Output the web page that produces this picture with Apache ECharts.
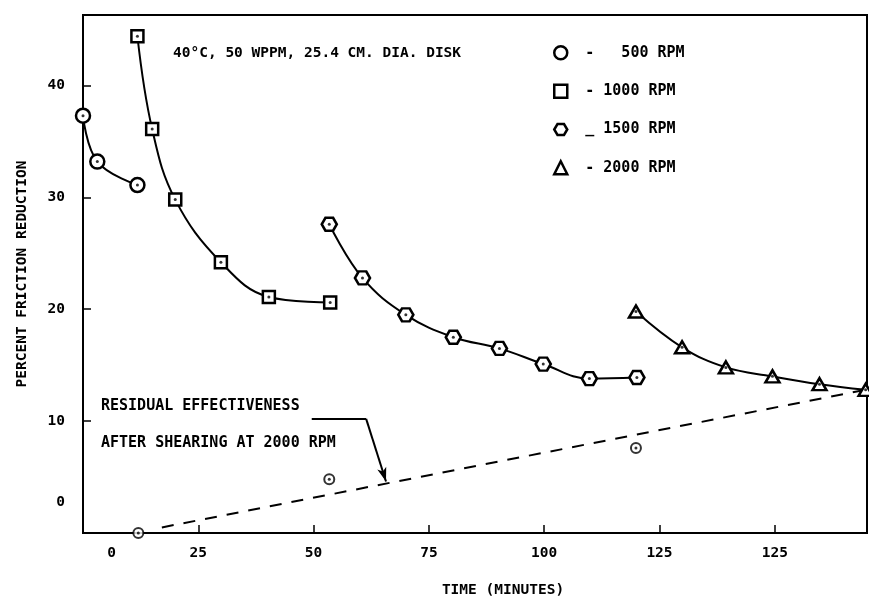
<!DOCTYPE html>
<html>
<head>
<meta charset="utf-8">
<script src="https://cdn.jsdelivr.net/npm/echarts@6/dist/echarts.min.js"></script>
<style>
  html, body { margin: 0; padding: 0; background: #fff; }
  #main { width: 869px; height: 603px; }
</style>
</head>
<body>
<div id="main"></div>
<script>
// 数据: [时间(分钟), 减阻百分比]
var rpm500 = [[0, 37.3], [3.1, 33.2], [11.8, 31.1]];
var rpm1000 = [[11.8, 44.4], [15.0, 36.1], [20.0, 29.8], [29.9, 24.2], [40.3, 21.1], [53.6, 20.6]];
var rpm1500 = [[53.4, 27.6], [60.6, 22.8], [70.0, 19.5], [80.3, 17.5], [90.3, 16.5], [99.8, 15.1], [109.8, 13.8], [120.1, 13.9]];
var rpm2000 = [[119.9, 19.8], [129.9, 16.6], [139.4, 14.8], [149.5, 14.0], [159.7, 13.3], [169.7, 12.8]];
var residual = [[12.0, 0], [53.4, 4.8], [119.9, 7.6]];
var residualLine = [[17.1, 0.5], [169.7, 12.8]];
var arrowPath = [[49.6, 10.2], [61.4, 10.2], [65.7, 4.6]];

// 刻度文字 (照原图)
var xTickLabels = ['0', '25', '50', '75', '100', '125', '125'];
var yTickLabels = ['0', '10', '20', '30', '40'];
var legendNames = ['-   500 RPM', '- 1000 RPM', '_ 1500 RPM', '- 2000 RPM'];

var FONT = '"DejaVu Sans Mono", monospace';
var INK = '#000';
var hexagon = 'path://M0,5 L3,0 L9,0 L12,5 L9,10 L3,10 Z';

var myChart = echarts.init(document.getElementById('main'));

// 带标记的曲线
function curve(name, data, symbol, size) {
  return {
    name: name,
    type: 'line',
    data: data,
    smooth: 0.4,
    symbol: symbol,
    symbolSize: size,
    showAllSymbol: true,
    lineStyle: { color: '#000', width: 2 },
    itemStyle: { color: '#fff', borderColor: '#000', borderWidth: 2.5 },
    z: 2
  };
}

var allPoints = rpm500.concat(rpm1000, rpm1500, rpm2000, residual);

var option = {
  animation: false,
  backgroundColor: '#fff',
  grid: {
    left: 83, right: 2, top: 15, bottom: 67,
    show: true, borderColor: '#000', borderWidth: 2
  },
  legend: {
    orient: 'vertical',
    left: 548,
    top: 40,
    itemWidth: 13,
    itemHeight: 13,
    itemGap: 23,
    selectedMode: false,
    itemStyle: { color: '#fff', borderColor: '#000', borderWidth: 2.5 },
    textStyle: { fontFamily: FONT, fontSize: 15, fontWeight: 'bold', color: INK, padding: [0, 0, 0, 13] },
    data: [
      { name: legendNames[0], icon: 'circle' },
      { name: legendNames[1], icon: 'rect' },
      { name: legendNames[2], icon: hexagon },
      { name: legendNames[3], icon: 'triangle' }
    ]
  },
  xAxis: {
    type: 'value',
    min: 0,
    max: 170,
    interval: 25,
    splitLine: { show: false },
    axisLine: { lineStyle: { color: '#000', width: 2 } },
    axisTick: { inside: true, length: 8, lineStyle: { color: '#000', width: 1.5 } },
    axisLabel: {
      margin: 13,
      color: INK,
      fontFamily: FONT,
      fontSize: 14.5,
      fontWeight: 'bold',
      showMaxLabel: false,
      formatter: function (v) {
        if (v % 25 !== 0) return '';
        var i = v / 25;
        return i === 0 ? '{z|0}' : xTickLabels[i];
      },
      rich: { z: { padding: [0, 0, 0, 57], fontFamily: FONT, fontSize: 14.5, fontWeight: 'bold', color: INK } }
    },
    name: 'TIME (MINUTES)',
    nameLocation: 'middle',
    nameGap: 50,
    nameTextStyle: { fontFamily: FONT, fontSize: 14.5, fontWeight: 'bold', color: INK, padding: [0, 0, 0, 56] }
  },
  yAxis: {
    type: 'value',
    min: 0,
    max: 46.3,
    interval: 10,
    splitLine: { show: false },
    axisLine: { lineStyle: { color: '#000', width: 2 } },
    axisTick: { inside: true, length: 8, lineStyle: { color: '#000', width: 1.5 } },
    axisLabel: {
      margin: 18,
      color: INK,
      fontFamily: FONT,
      fontSize: 14.5,
      fontWeight: 'bold',
      showMaxLabel: false,
      formatter: function (v) {
        if (v % 10 !== 0) return '';
        var i = v / 10;
        return i === 0 ? '{z|0}' : yTickLabels[i];
      },
      rich: { z: { padding: [0, 0, 62, 0], fontFamily: FONT, fontSize: 14.5, fontWeight: 'bold', color: INK } }
    },
    name: 'PERCENT FRICTION REDUCTION',
    nameLocation: 'middle',
    nameGap: 53,
    nameRotate: 90,
    nameTextStyle: { fontFamily: FONT, fontSize: 14.5, fontWeight: 'bold', color: INK }
  },
  graphic: [
    { type: 'text', x: 173, y: 53, style: { text: '40\u00B0C, 50 WPPM, 25.4 CM. DIA. DISK', font: 'bold 14.5px ' + FONT, fill: INK, verticalAlign: 'middle' } },
    { type: 'text', x: 101, y: 406, style: { text: 'RESIDUAL EFFECTIVENESS', font: 'bold 15px ' + FONT, fill: INK, verticalAlign: 'middle' } },
    { type: 'text', x: 101, y: 443, style: { text: 'AFTER SHEARING AT 2000 RPM', font: 'bold 15px ' + FONT, fill: INK, verticalAlign: 'middle' } }
  ],
  series: [
    curve(legendNames[0], rpm500, 'circle', 14),
    curve(legendNames[1], rpm1000, 'rect', 12),
    curve(legendNames[2], rpm1500, hexagon, [15, 13]),
    curve(legendNames[3], rpm2000, 'triangle', [14, 12]),
    {
      // 2000 RPM 剪切后的残余效果
      name: 'residual',
      type: 'scatter',
      data: residual,
      symbol: 'circle',
      symbolSize: 10,
      itemStyle: { color: '#fff', borderColor: '#000', borderWidth: 2 },
      z: 2
    },
    {
      name: 'residual line',
      type: 'line',
      data: residualLine,
      symbol: 'none',
      lineStyle: { color: '#000', width: 2, type: [12, 10] },
      markLine: {
        silent: true,
        label: { show: false },
        lineStyle: { color: '#000', width: 2, type: 'solid' },
        data: [
          [{ coord: arrowPath[0], symbol: 'none' }, { coord: arrowPath[1], symbol: 'none' }],
          [{ coord: arrowPath[1], symbol: 'none' }, { coord: arrowPath[2], symbol: 'arrow', symbolSize: [7, 14] }]
        ]
      },
      z: 1
    },
    {
      // 标记中心的小点
      name: 'dots',
      type: 'scatter',
      data: allPoints,
      symbol: 'circle',
      symbolSize: 3,
      itemStyle: { color: '#000' },
      z: 5
    }
  ]
};

myChart.setOption(option);
</script>
</body>
</html>
